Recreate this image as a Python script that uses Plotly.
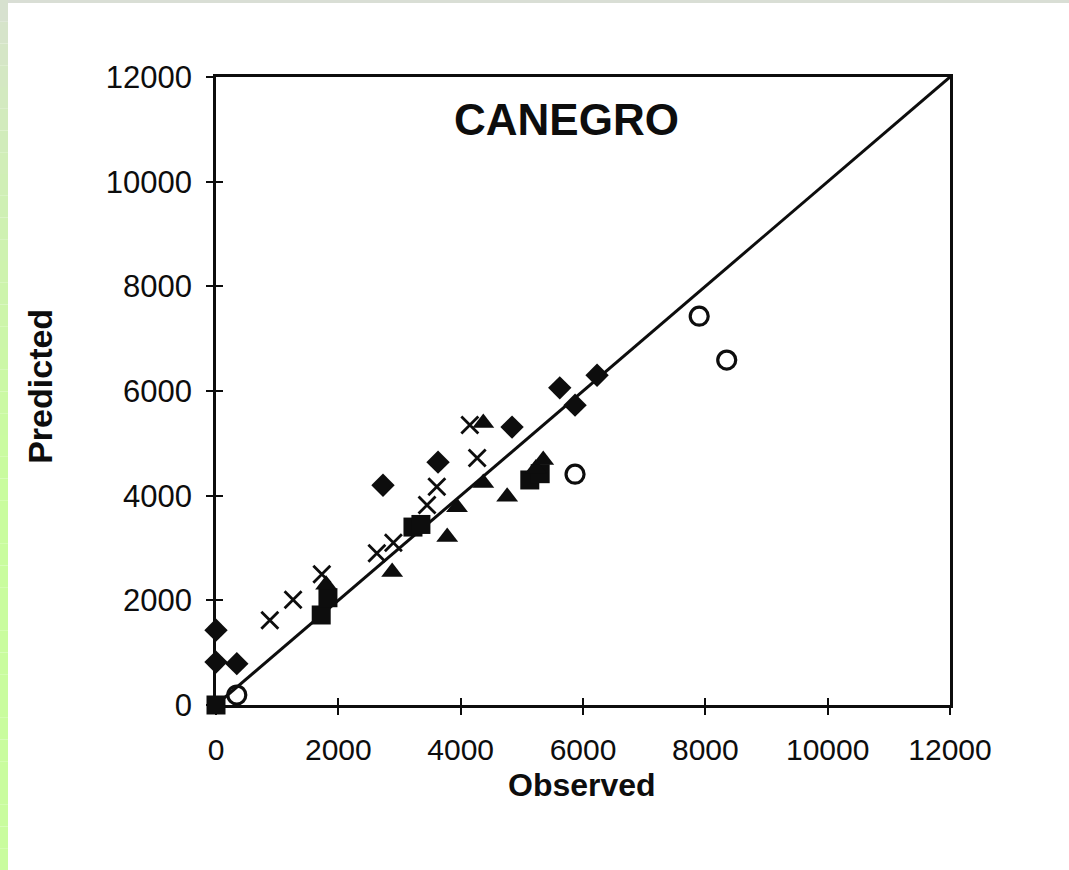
import plotly.graph_objects as go

# Observed vs predicted values (CANEGRO), grouped by marker type
circle_obs = [340, 5870, 7900, 8350]
circle_pred = [190, 4410, 7430, 6590]

diamond_obs = [0, 0, 340, 2730, 3630, 4840, 5620, 5870, 6230]
diamond_pred = [1430, 820, 790, 4200, 4640, 5310, 6060, 5730, 6300]

square_obs = [0, 1720, 1830, 3220, 3350, 5130, 5300]
square_pred = [0, 1720, 2050, 3400, 3450, 4300, 4420]

triangle_obs = [1800, 2880, 3780, 3940, 4370, 4760, 5230, 5350, 4370]
triangle_pred = [2300, 2540, 3210, 3780, 4240, 3980, 4520, 4680, 5390]

cross_obs = [880, 1260, 1730, 2630, 2900, 3450, 3610, 4270, 4150]
cross_pred = [1620, 2010, 2500, 2900, 3100, 3820, 4170, 4720, 5350]

one_to_one = [0, 12000]
tick_vals = [0, 2000, 4000, 6000, 8000, 10000, 12000]
tick_text = ["0", "2000", "4000", "6000", "8000", "10000", "12000"]

FONT = "Liberation Sans, Arial, sans-serif"
INK = "#0d0d0d"

fig = go.Figure()

fig.add_trace(go.Scatter(x=one_to_one, y=one_to_one, mode="lines",
                         line=dict(color=INK, width=3), showlegend=False,
                         hoverinfo="skip"))

common = dict(mode="markers", showlegend=False, cliponaxis=False)
fig.add_trace(go.Scatter(x=diamond_obs, y=diamond_pred, name="diamond",
                         marker=dict(symbol="diamond", size=18, color=INK), **common))
fig.add_trace(go.Scatter(x=square_obs, y=square_pred, name="square",
                         marker=dict(symbol="square", size=19, color=INK), **common))
fig.add_trace(go.Scatter(x=triangle_obs, y=triangle_pred, name="triangle",
                         marker=dict(symbol="triangle-up", size=19, color=INK), **common))
fig.add_trace(go.Scatter(x=cross_obs, y=cross_pred, name="cross",
                         marker=dict(symbol="x-thin-open", size=17, color=INK,
                                     line=dict(color=INK, width=2.8)), **common))
fig.add_trace(go.Scatter(x=circle_obs, y=circle_pred, name="circle",
                         marker=dict(symbol="circle-open", size=18, color=INK,
                                     line=dict(color=INK, width=3.2)), **common))

# companion axes carrying the inner half of each tick mark
fig.add_trace(go.Scatter(x=[None], y=[None], xaxis="x2", yaxis="y2",
                         showlegend=False, hoverinfo="skip"))

axis_common = dict(range=[0, 12000], showgrid=False, zeroline=False,
                   tickvals=tick_vals, ticktext=tick_text)

fig.update_layout(
    width=1069, height=870,
    margin=dict(l=216, r=119, t=77, b=165),
    paper_bgcolor="white", plot_bgcolor="white",
    font=dict(family=FONT, color=INK),
    xaxis=dict(**axis_common, showline=True, linecolor=INK, linewidth=2.8,
               mirror=True, ticks="outside", ticklen=7, tickwidth=1.5,
               tickcolor=INK, ticklabelstandoff=9,
               tickfont=dict(size=30, family=FONT, color=INK)),
    yaxis=dict(**axis_common, showline=True, linecolor=INK, linewidth=2.8,
               mirror=True, ticks="outside", ticklen=7, tickwidth=1.5,
               tickcolor=INK, ticklabelstandoff=8,
               tickfont=dict(size=31, family=FONT, color=INK)),
    xaxis2=dict(**axis_common, overlaying="x", side="bottom", anchor="y2",
                ticks="inside", ticklen=7, tickwidth=1.5, tickcolor=INK,
                showticklabels=False, showline=False),
    yaxis2=dict(**axis_common, overlaying="y", side="left", anchor="x2",
                ticks="inside", ticklen=7, tickwidth=1.5, tickcolor=INK,
                showticklabels=False, showline=False),
    annotations=[
        dict(text="<b>CANEGRO</b>", xref="paper", yref="paper",
             x=0.477, y=0.933, yanchor="middle", showarrow=False,
             font=dict(size=44, family=FONT, color=INK)),
        dict(text="<b>Observed</b>", xref="paper", yref="paper",
             x=0.499, y=-0.127, yanchor="middle", showarrow=False,
             font=dict(size=32, family=FONT, color=INK)),
        dict(text="<b>Predicted</b>", xref="paper", yref="paper",
             x=-0.240, y=0.508, xanchor="center", yanchor="middle",
             textangle=-90, showarrow=False,
             font=dict(size=34, family=FONT, color=INK)),
    ],
)

# page frame: grey top edge and a left strip fading from grey to light green
W, H, L, T, PW, PH = 1069, 870, 216, 77, 734, 628


def px_to_paper(px, py):
    return (px - L) / PW, (T + PH - py) / PH


def mix(c1, c2, t):
    a = [int(c1[i:i + 2], 16) for i in (1, 3, 5)]
    b = [int(c2[i:i + 2], 16) for i in (1, 3, 5)]
    return "#" + "".join(f"{round(a[k] + (b[k] - a[k]) * t):02x}" for k in range(3))


shapes = []
x0, y0 = px_to_paper(0, 0)
x1, y1 = px_to_paper(W, 3)
shapes.append(dict(type="rect", xref="paper", yref="paper", x0=x0, x1=x1,
                   y0=y1, y1=y0, fillcolor="#d9ded5", line=dict(width=0),
                   layer="below"))
steps = 40
for i in range(steps):
    top = H * i / steps
    bot = H * (i + 1) / steps
    t = min(1.0, (i + 0.5) / steps * 1.8) ** 0.6
    sx0, sy0 = px_to_paper(0, top)
    sx1, sy1 = px_to_paper(8, bot)
    shapes.append(dict(type="rect", xref="paper", yref="paper", x0=sx0, x1=sx1,
                       y0=sy1, y1=sy0, fillcolor=mix("#d9ded5", "#c9fc9e", t),
                       line=dict(width=0), layer="below"))
fig.update_layout(shapes=shapes)

fig.write_html("out.html")
